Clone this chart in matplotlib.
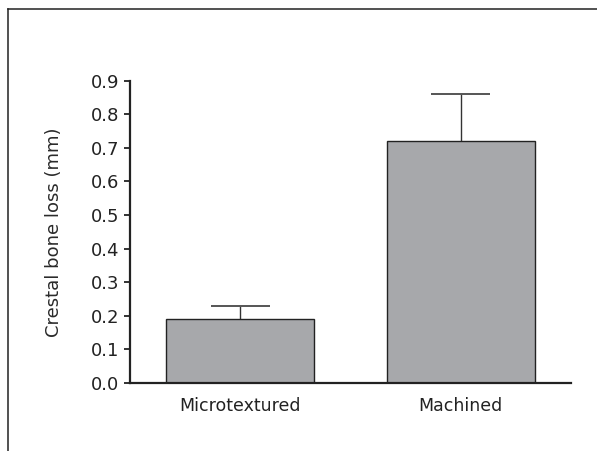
import matplotlib
matplotlib.use('Agg')
import matplotlib.pyplot as plt
from matplotlib.lines import Line2D

# Data
groups = ['Microtextured', 'Machined']
loss = [0.19, 0.72]
sem = [0.04, 0.14]
yticks = [0.0, 0.1, 0.2, 0.3, 0.4, 0.5, 0.6, 0.7, 0.8, 0.9]

plt.rcParams['font.family'] = ['DejaVu Sans']

fig = plt.figure(figsize=(5.97, 4.51), dpi=100)
ax = fig.add_axes([130 / 597, 1 - 383 / 451, 441 / 597, 302.3 / 451])

x = list(range(len(groups)))
width = 0.67
ax.bar(x, loss, width=width, color='#a7a8ab', edgecolor='#222222', linewidth=1.0, zorder=2)
# upper error bars only
tops = [v + e for v, e in zip(loss, sem)]
ax.vlines(x, loss, tops, color='#333333', linewidth=1.0, zorder=1)
ax.hlines(tops, [i - width * 0.2 for i in x], [i + width * 0.2 for i in x],
          color='#555555', linewidth=1.4, zorder=1)

ax.set_xlim(-0.5, 1.5)
ax.set_ylim(0, 0.9)
ax.set_yticks(yticks)
ax.set_yticklabels([f'{v:.1f}' for v in yticks])
ax.set_xticks(x)
ax.set_xticklabels(groups)
ax.set_ylabel('Crestal bone loss (mm)', fontsize=13, color='#2a2a2a', labelpad=20)

for side in ['top', 'right']:
    ax.spines[side].set_visible(False)
for side in ['left', 'bottom']:
    ax.spines[side].set_linewidth(1.6)
    ax.spines[side].set_color('#222222')
ax.tick_params(axis='y', length=4.5, width=1.3, pad=3, labelsize=13, colors='#222222')
ax.tick_params(axis='x', length=0, pad=10, labelsize=12.5, colors='#222222')

# panel frame
fig.add_artist(Line2D([8 / 597, 8 / 597], [0, 1 - 9 / 451], color='#222222', linewidth=1.1))
fig.add_artist(Line2D([8 / 597, 1], [1 - 9 / 451, 1 - 9 / 451], color='#222222', linewidth=1.1))

fig.savefig('out.png', dpi=100)
